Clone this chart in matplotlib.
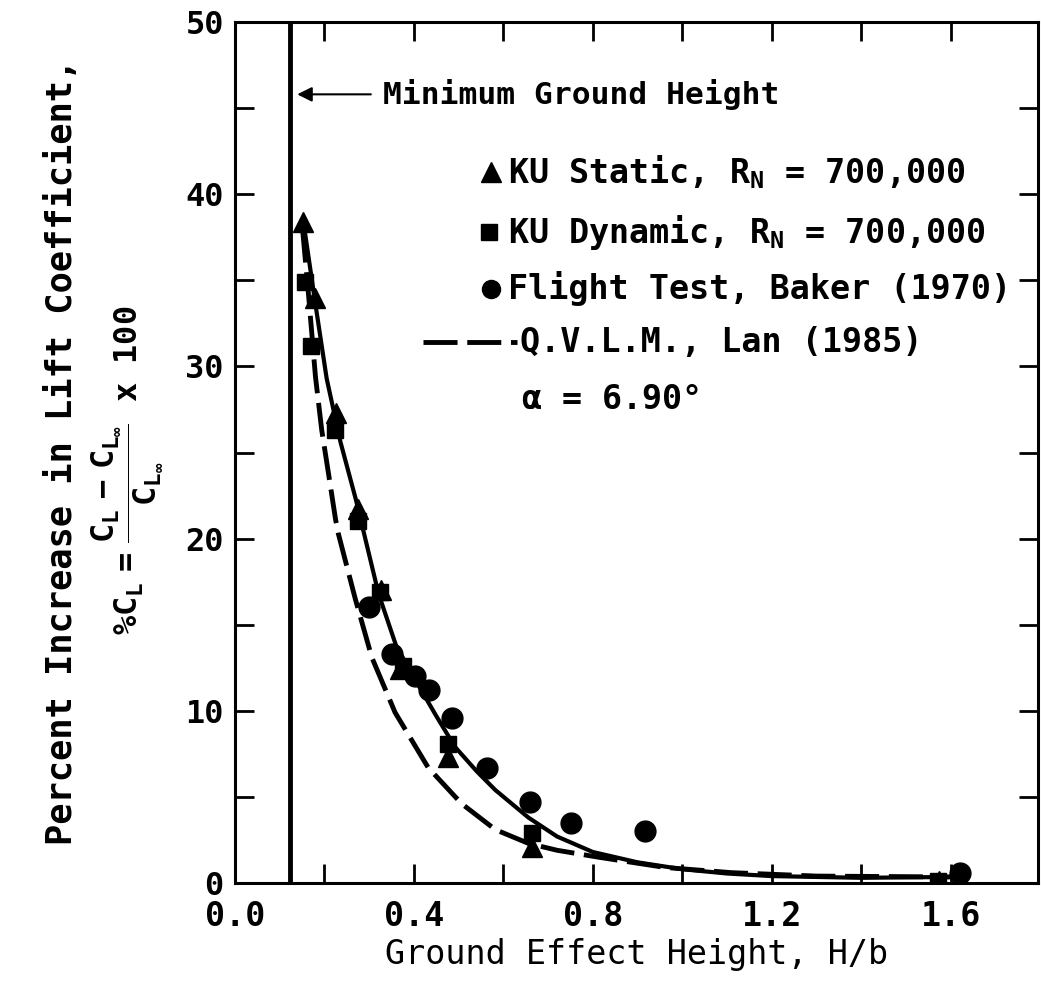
import matplotlib.pyplot as plt
from matplotlib.lines import Line2D
import numpy as np

plt.rcParams['font.family'] = ['DejaVu Sans Mono']
plt.rcParams['font.weight'] = 'bold'
plt.rcParams['mathtext.fontset'] = 'custom'
plt.rcParams['mathtext.rm'] = 'DejaVu Sans Mono:bold'
plt.rcParams['mathtext.it'] = 'DejaVu Sans Mono:bold'
plt.rcParams['mathtext.bf'] = 'DejaVu Sans Mono:bold'

# KU static (triangles)
static_x = [0.153, 0.18, 0.227, 0.276, 0.327, 0.37, 0.477, 0.663, 1.575]
static_y = [38.4, 34.0, 27.3, 21.7, 17.0, 12.4, 7.3, 2.1, 0.1]
# KU dynamic (squares)
dynamic_x = [0.157, 0.171, 0.224, 0.274, 0.325, 0.375, 0.477, 0.663, 1.572]
dynamic_y = [34.9, 31.2, 26.3, 21.0, 16.9, 12.6, 8.1, 2.9, 0.1]
# Flight test, Baker (1970) (circles)
flight_x = [0.299, 0.35, 0.403, 0.433, 0.486, 0.564, 0.66, 0.751, 0.917, 1.62]
flight_y = [16.0, 13.3, 12.0, 11.2, 9.6, 6.7, 4.7, 3.5, 3.0, 0.6]

# fitted curve through KU data (solid)
fit_x = [0.153, 0.18, 0.205, 0.236, 0.27, 0.321, 0.36, 0.403, 0.45, 0.492,
         0.54, 0.582, 0.656, 0.72, 0.80, 0.90, 1.0, 1.1, 1.2, 1.4, 1.6]
fit_y = [38.4, 33.6, 29.3, 25.6, 22.3, 16.8, 13.8, 11.8, 9.7, 7.9,
         6.5, 5.4, 3.8, 2.7, 1.8, 1.2, 0.8, 0.55, 0.4, 0.3, 0.35]

# Q.V.L.M., Lan (1985) (dashed)
qvlm_x = [0.151, 0.165, 0.18, 0.194, 0.209, 0.225, 0.231, 0.269, 0.306, 0.358,
          0.432, 0.507, 0.582, 0.656, 0.72, 0.812, 0.962, 1.11, 1.3, 1.6]
qvlm_y = [38.0, 34.0, 29.4, 26.3, 23.8, 21.1, 20.3, 16.5, 13.1, 9.9,
          6.7, 4.6, 3.1, 2.3, 1.9, 1.5, 0.9, 0.6, 0.4, 0.35]

min_height = 0.123

fig = plt.figure(figsize=(10.41, 9.92), dpi=100)
ax = fig.add_axes([0.2257, 0.1099, 0.7713, 0.8679])

ax.axvline(min_height, color='black', lw=3.5)
ax.plot(fit_x, fit_y, color='black', lw=3)
ax.plot(qvlm_x, qvlm_y, color='black', lw=3.5, dashes=(7, 2))
ax.plot(static_x, static_y, '^', color='black', ms=15)
ax.plot(dynamic_x, dynamic_y, 's', color='black', ms=12)
ax.plot(flight_x, flight_y, 'o', color='black', ms=15)

ax.set_xlim(0, 1.795)
ax.set_ylim(0, 50)
ax.set_xticks(np.arange(0, 1.7, 0.4))
ax.set_xticks(np.arange(0.2, 1.8, 0.2), minor=True)
ax.set_yticks(np.arange(0, 51, 10))
ax.set_yticks(np.arange(5, 50, 10), minor=True)
ax.set_xticklabels(['0.0', '0.4', '0.8', '1.2', '1.6'])
ax.tick_params(which='both', direction='in', length=14, width=2,
               top=True, right=True)
ax.tick_params(axis='x', pad=12, labelsize=24)
ax.tick_params(axis='y', pad=8, labelsize=23)
for s in ax.spines.values():
    s.set_linewidth(2.2)

ax.set_xlabel('Ground Effect Height, H/b', fontsize=24, labelpad=4)

fig.text(0.06, 0.544, 'Percent Increase in Lift Coefficient,', rotation=90,
         ha='center', va='center', fontsize=25.5)
fig.text(0.122, 0.526,
         r'$\%C_L\ =\ \dfrac{C_L\ -\ C_{L_\infty}}{C_{L_\infty}}$ x 100',
         rotation=90, ha='center', va='center', fontsize=23)

ax.annotate('', xy=(0.133, 45.8), xytext=(0.31, 45.8),
            arrowprops=dict(arrowstyle='-|>', color='black', lw=1.5,
                            mutation_scale=22))
ax.text(0.332, 45.8, 'Minimum Ground Height', fontsize=22.5, va='center')

# legend drawn by hand
fs = 24
ax.plot([0.573], [41.3], '^', color='black', ms=14)
ax.text(0.611, 41.3, r'KU Static, R$_\mathregular{N}$ = 700,000', fontsize=fs, va='center')
ax.plot([0.568], [37.8], 's', color='black', ms=11)
ax.text(0.611, 37.8, r'KU Dynamic, R$_\mathregular{N}$ = 700,000', fontsize=fs, va='center')
ax.plot([0.573], [34.5], 'o', color='black', ms=13)
ax.text(0.611, 34.5, 'Flight Test, Baker (1970)', fontsize=fs, va='center')
ax.add_line(Line2D([0.421, 0.63], [31.4, 31.4], color='black', lw=3.5, dashes=(7, 2)))
ax.text(0.638, 31.4, 'Q.V.L.M., Lan (1985)', fontsize=fs, va='center')
ax.text(0.64, 28.1, r'$\mathregular{\alpha}$ = 6.90°', fontsize=fs, va='center')

fig.savefig('out.png', dpi=100)
